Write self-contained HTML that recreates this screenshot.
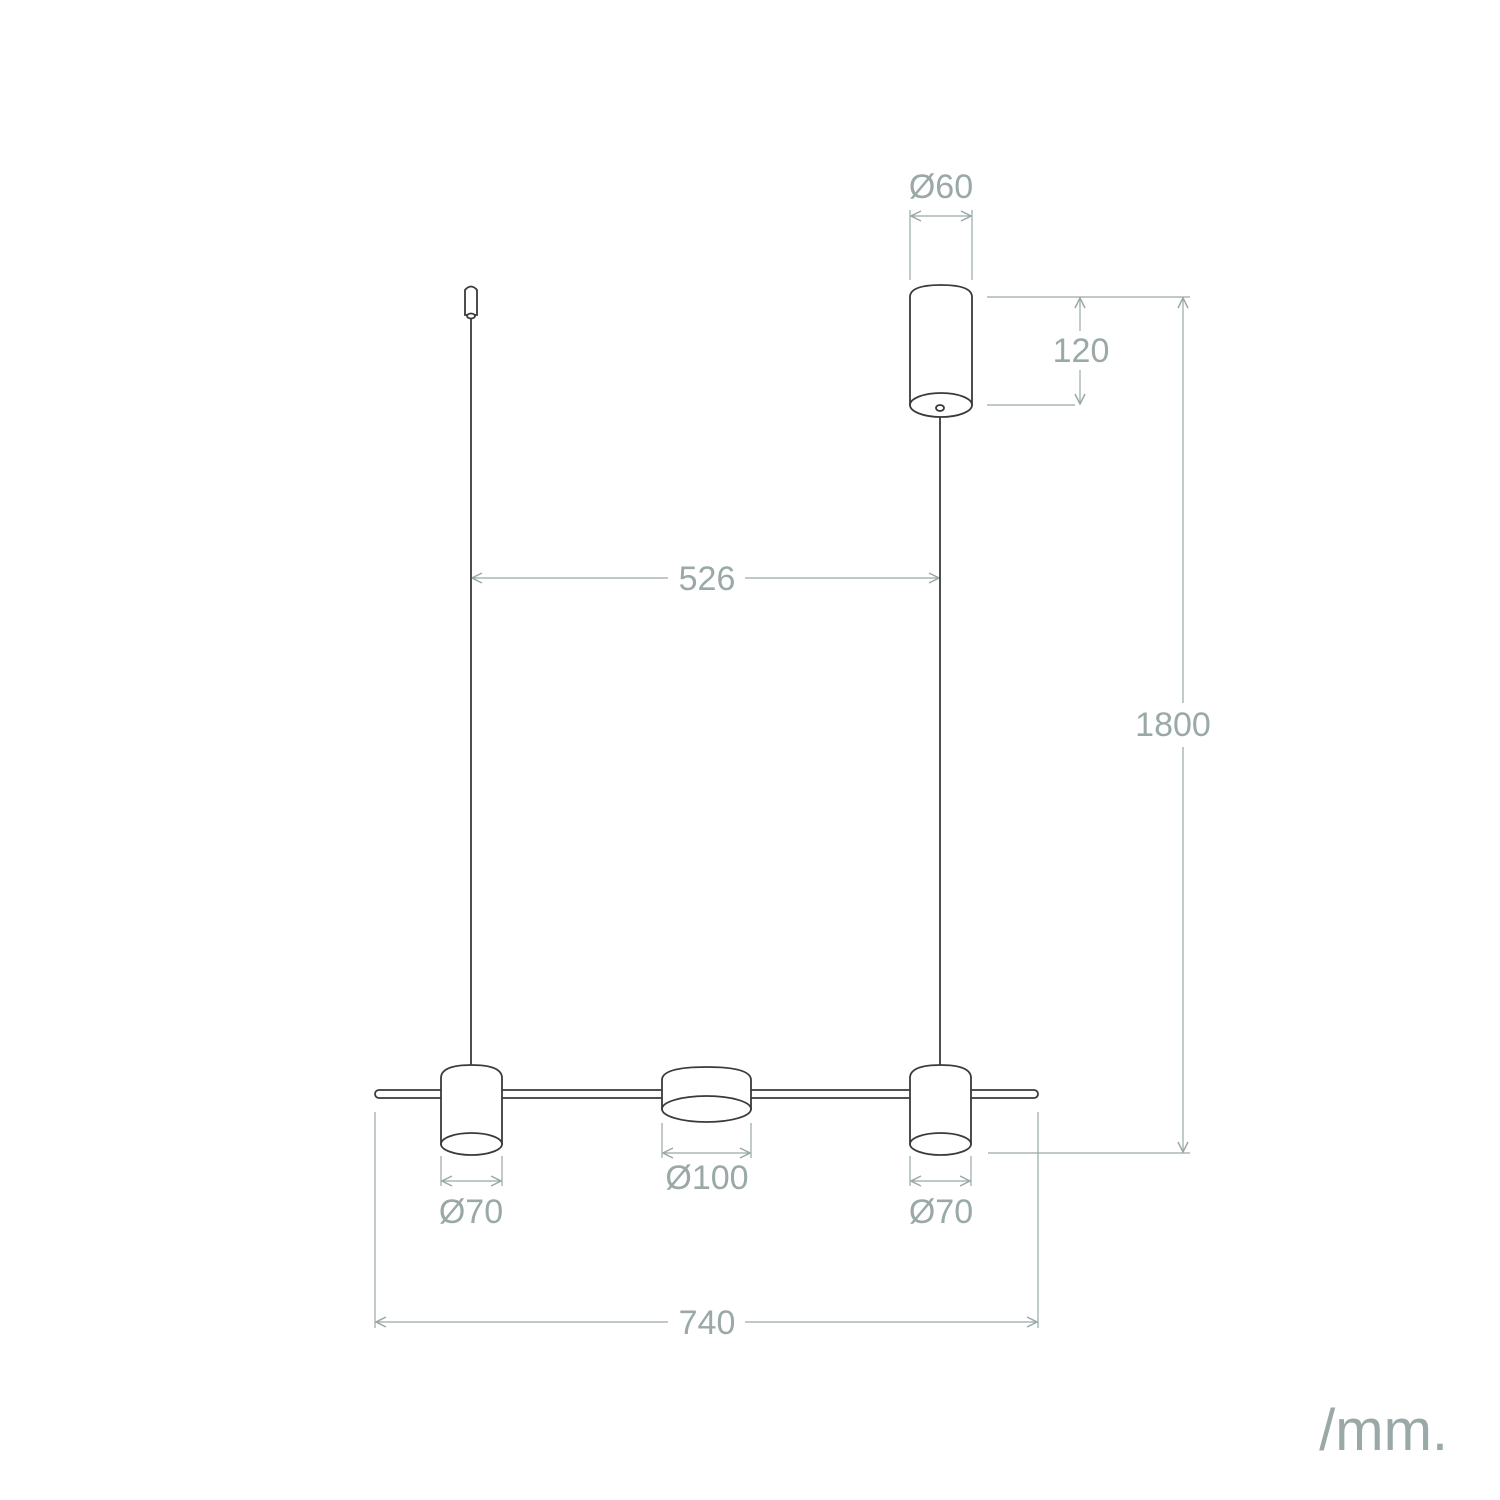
<!DOCTYPE html>
<html><head><meta charset="utf-8"><style>
html,body{margin:0;padding:0;background:#fff;}
svg{display:block}
text{font-family:"Liberation Sans",sans-serif;fill:#9aa8a8;}
</style></head><body>
<svg width="1500" height="1500" viewBox="0 0 1500 1500" xmlns="http://www.w3.org/2000/svg">
<defs>
<marker id="a" viewBox="0 0 12 12" refX="11" refY="6" markerWidth="12" markerHeight="12" markerUnits="userSpaceOnUse" orient="auto-start-reverse">
<path d="M1,1 L11,6 L1,11" fill="none" stroke="#9aa8a8" stroke-width="1.5"/>
</marker>
</defs>
<g stroke="#9aa8a8" stroke-width="1.2" fill="none">
<line x1="910" y1="210" x2="910" y2="280"/><line x1="972" y1="210" x2="972" y2="280"/>
<line x1="911" y1="216" x2="971" y2="216" marker-start="url(#a)" marker-end="url(#a)"/>
<line x1="987" y1="297" x2="1190" y2="297"/><line x1="987" y1="405" x2="1075" y2="405"/>
<line x1="1080" y1="298" x2="1080" y2="331" marker-start="url(#a)"/>
<line x1="1080" y1="370" x2="1080" y2="404" marker-end="url(#a)"/>
<line x1="1183" y1="298" x2="1183" y2="703" marker-start="url(#a)"/>
<line x1="1183" y1="747" x2="1183" y2="1152" marker-end="url(#a)"/>
<line x1="988" y1="1153" x2="1190" y2="1153"/>
<line x1="472" y1="578" x2="668" y2="578" marker-start="url(#a)"/>
<line x1="745" y1="578" x2="939" y2="578" marker-end="url(#a)"/>
<line x1="441" y1="1156" x2="441" y2="1186"/><line x1="502" y1="1156" x2="502" y2="1186"/>
<line x1="442" y1="1181" x2="501" y2="1181" marker-start="url(#a)" marker-end="url(#a)"/>
<line x1="910" y1="1156" x2="910" y2="1186"/><line x1="971" y1="1156" x2="971" y2="1186"/>
<line x1="911" y1="1181" x2="970" y2="1181" marker-start="url(#a)" marker-end="url(#a)"/>
<line x1="662" y1="1123" x2="662" y2="1158"/><line x1="751" y1="1123" x2="751" y2="1158"/>
<line x1="663" y1="1153" x2="750" y2="1153" marker-start="url(#a)" marker-end="url(#a)"/>
<line x1="375" y1="1112" x2="375" y2="1328"/><line x1="1038" y1="1112" x2="1038" y2="1328"/>
<line x1="376" y1="1322" x2="668" y2="1322" marker-start="url(#a)"/>
<line x1="745" y1="1322" x2="1037" y2="1322" marker-end="url(#a)"/>
</g>
<g stroke="#3a3a3a" stroke-width="1.8" fill="#fff">
<line x1="471" y1="318" x2="471" y2="1068"/>
<line x1="940" y1="412" x2="940" y2="1068"/>
<path d="M465,290 Q471,283 477,290 L477,315 L465,315 Z"/>
<ellipse cx="471" cy="316" rx="4" ry="2.5"/>
<path d="M910,297 Q910,285 941,285 Q972,285 972,297 L972,405 L910,405 Z"/>
<ellipse cx="941" cy="405" rx="31" ry="12"/>
<ellipse cx="940" cy="408" rx="4" ry="3"/>
<rect x="375" y="1090" width="663" height="8" rx="4"/>
<path d="M441,1078 Q441,1065 471.5,1065 Q502,1065 502,1078 L502,1144 L441,1144 Z"/>
<ellipse cx="471.5" cy="1144" rx="30.5" ry="11"/>
<path d="M910,1078 Q910,1065 940.5,1065 Q971,1065 971,1078 L971,1144 L910,1144 Z"/>
<ellipse cx="940.5" cy="1144" rx="30.5" ry="11"/>
<path d="M662,1080 Q662,1067 706.5,1067 Q751,1067 751,1080 L751,1109 L662,1109 Z"/>
<ellipse cx="706.5" cy="1109" rx="44.5" ry="13"/>
</g>
<g font-size="34" text-anchor="middle">
<text x="941" y="198">Ø60</text>
<text x="1081" y="362">120</text>
<text x="1173" y="736">1800</text>
<text x="707" y="590">526</text>
<text x="471" y="1223">Ø70</text>
<text x="941" y="1223">Ø70</text>
<text x="707" y="1189">Ø100</text>
<text x="707" y="1334">740</text>
</g>
<text x="1448" y="1450" font-size="58" text-anchor="end">/mm.</text>
</svg>
</body></html>
